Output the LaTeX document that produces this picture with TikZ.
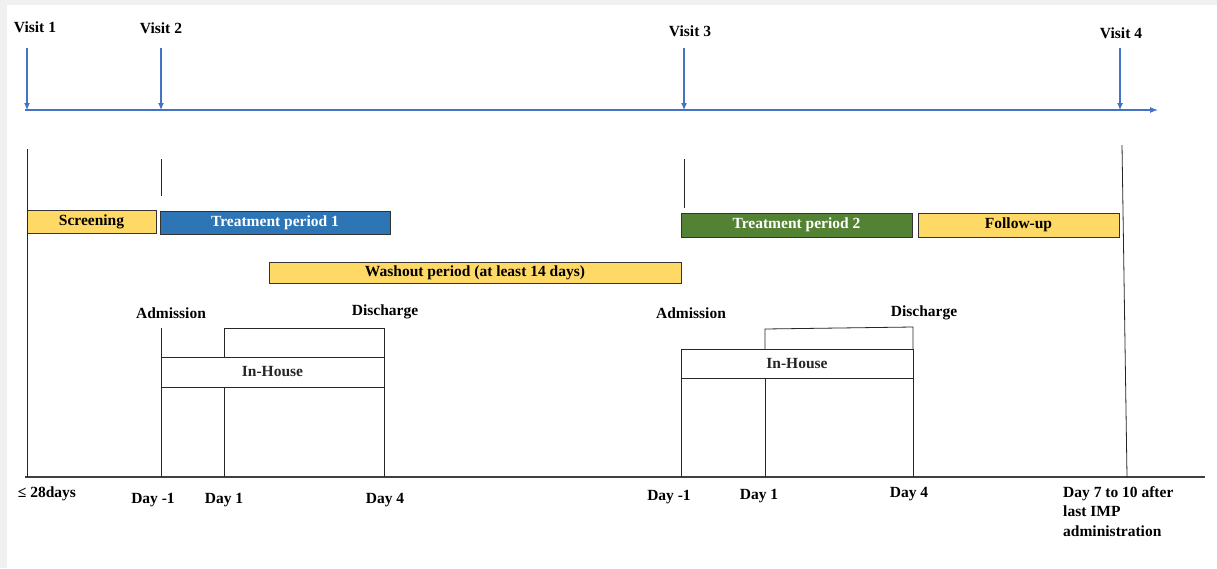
\documentclass[tikz,border=0pt]{standalone}
\usepackage{fontspec}
\setmainfont{Liberation Serif}
\usetikzlibrary{positioning,arrows.meta}
\definecolor{axisblue}{HTML}{4472C4}
\definecolor{phaseyellow}{HTML}{FFD966}
\definecolor{phaseblue}{HTML}{2E75B6}
\definecolor{phasegreen}{HTML}{548235}

\begin{document}
\begin{tikzpicture}[x=1pt,y=-1pt,
    lbl/.style={font=\bfseries\fontsize{15.5}{17}\selectfont,inner sep=0pt},
    phase/.style={draw=black!80,line width=1pt,minimum height=23pt,inner sep=0pt,font=\bfseries\fontsize{15.5}{17}\selectfont},
    visitarrow/.style={axisblue,line width=1.1pt,-{Latex[length=7pt,width=6pt]}},
    tick/.style={black!85,line width=0.8pt}]
  \fill[black!6] (0,0) rectangle (1217,568);
  \fill[white] (7,5) rectangle (1217,568);
  \useasboundingbox (0,0) rectangle (1217,568);

  % visits and time axis
  \node[lbl] (v1) at (35,27) {Visit 1};
  \node[lbl] (v2) at (161,28) {Visit 2};
  \node[lbl] (v3) at (690,31) {Visit 3};
  \node[lbl] (v4) at (1121,33) {Visit 4};
  \coordinate (t0) at (25,110);
  \coordinate (tend) at (1158,110);
  \draw[axisblue,line width=1.1pt,-{Latex[length=8pt,width=6pt]}] (t0) -- (tend);
  \foreach \x/\v in {27/v1,161/v2,684/v3,1120/v4}
    \draw[visitarrow] (\x,48) -- (\x,110);

  % phases
  \node[phase,fill=phaseyellow,minimum width=129pt] (scr) at (91.5,222) {Screening};
  \node[phase,fill=phaseblue,text=white,minimum width=230pt] (tp1) at (275,222.5) {Treatment period 1};
  \node[phase,fill=phaseyellow,minimum width=412pt,minimum height=21pt] (wash) at (475,272.5) {Washout period (at least 14 days)};
  \node[phase,fill=phasegreen,text=white,minimum width=231pt,minimum height=24pt] (tp2) at (796.5,225) {Treatment period 2};
  \node[phase,fill=phaseyellow,minimum width=201pt,minimum height=24pt] (fu) at (1018.5,225) {Follow-up};

  % in-house stays
  \node[draw,tick,minimum width=223pt,minimum height=30pt,inner sep=0pt,lbl] (ih1) at (272.5,372) {In-House};
  \node[draw,tick,minimum width=232pt,minimum height=29pt,inner sep=0pt,lbl] (ih2) at (797,363.5) {In-House};
  \node[lbl] (adm1) at (171,313) {Admission};
  \node[lbl] (dis1) at (385,312) {Discharge};
  \node[lbl] (adm2) at (691,313) {Admission};
  \node[lbl] (dis2) at (924,313) {Discharge};

  \draw[tick] (224,357) -- (224,328) -- (384,328) -- (384,357);
  \draw[tick] (161,328) -- (161,357);
  \draw[tick] (765,349) -- (765,329) -- (913,327) -- (913,349);

  % baseline and ticks
  \coordinate (b0) at (25,477);
  \coordinate (bend) at (1205,477);
  \draw[black!75,line width=1.2pt] (b0) -- (bend);
  \draw[tick] (27,149) -- (27,477);
  \draw[tick] (161,159) -- (161,196);
  \draw[tick] (684,159) -- (684,208);
  \draw[tick] (1122,145) -- (1127,477);
  \foreach \x in {161,224,384}
    \draw[tick] (\x,387) -- (\x,477);
  \foreach \x in {681,765,913}
    \draw[tick] (\x,378) -- (\x,477);
  \draw[tick] (681,349) -- (681,378);

  % day labels
  \node[lbl] (d0) at (47,494) {≤ 28days};
  \node[lbl] (d1) at (153,500) {Day -1};
  \node[lbl] (d2) at (224,500) {Day 1};
  \node[lbl] (d3) at (385,500) {Day 4};
  \node[lbl] (d4) at (669,497) {Day -1};
  \node[lbl] (d5) at (759,496) {Day 1};
  \node[lbl] (d6) at (909,494) {Day 4};
  \node[lbl,anchor=north west,align=left,font=\bfseries\fontsize{15.5}{19.5}\selectfont] (d7) at (1063,486) {Day 7 to 10 after\\last IMP\\administration};
\end{tikzpicture}
\end{document}
